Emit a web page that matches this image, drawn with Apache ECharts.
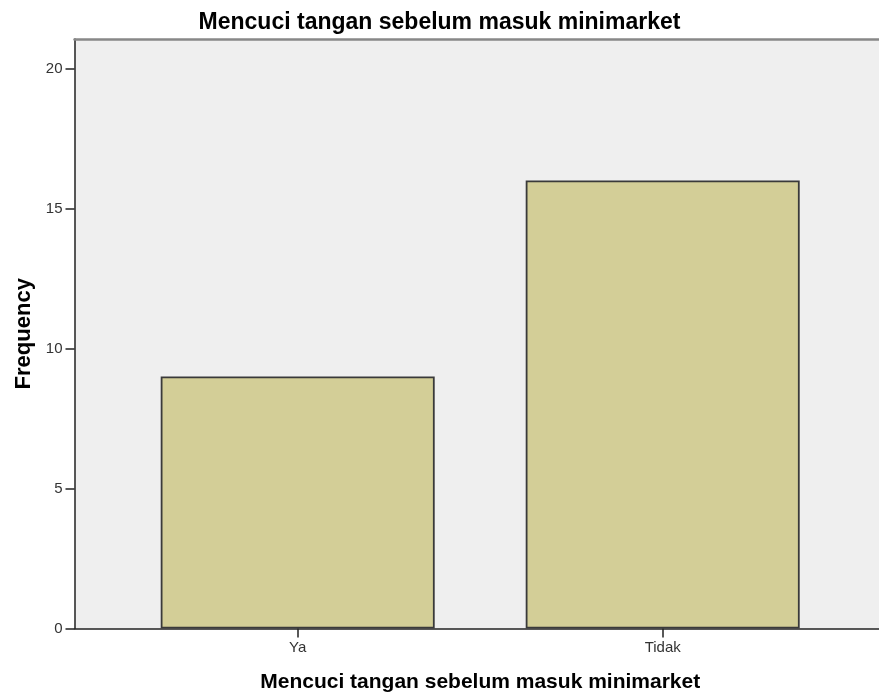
<!DOCTYPE html>
<html>
<head>
<meta charset="utf-8">
<script src="https://cdn.jsdelivr.net/npm/echarts@6/dist/echarts.min.js"></script>
<style>html,body{margin:0;padding:0;background:#fff;}#c{width:879px;height:698px;}</style>
</head>
<body>
<div id="c"></div>
<script>
const titleText = 'Mencuci tangan sebelum masuk minimarket';
const categories = ['Ya', 'Tidak'];
const frequencies = [9, 16];
const yTicks = [0, 5, 10, 15, 20];
const yMax = 21.05;

const chart = echarts.init(document.getElementById('c'));
const font = 'Liberation Sans, Arial, sans-serif';
chart.setOption({
  animation: false,
  backgroundColor: '#ffffff',
  title: {
    text: titleText, left: 'center', top: 6,
    textStyle: {fontFamily: font, fontSize: 23, fontWeight: 'bold', color: '#000'}
  },
  grid: [
    {left: 74.5, width: 812, top: 39, bottom: 69.5, show: true, backgroundColor: '#efefef', borderWidth: 0},
    {left: 115.2, width: 730, top: 39, bottom: 69.5}
  ],
  xAxis: [
    {gridIndex: 0, type: 'value', min: 0, max: 1, position: 'bottom',
     axisLine: {show: true, lineStyle: {color: '#222', width: 1.5}},
     axisTick: {show: false}, axisLabel: {show: false}, splitLine: {show: false}},
    {gridIndex: 0, type: 'value', min: 0, max: 1, position: 'top',
     axisLine: {show: true, lineStyle: {color: '#888', width: 2.5}},
     axisTick: {show: false}, axisLabel: {show: false}, splitLine: {show: false}},
    {gridIndex: 1, type: 'category', data: categories,
     name: titleText, nameLocation: 'middle', nameGap: 43,
     nameTextStyle: {fontFamily: font, fontSize: 21, fontWeight: 'bold', color: '#000'},
     axisLine: {show: false},
     axisTick: {show: true, alignWithLabel: true, length: 9, lineStyle: {color: '#222', width: 1.5}},
     axisLabel: {fontFamily: font, fontSize: 15, color: '#333', margin: 12},
     splitLine: {show: false}}
  ],
  yAxis: [
    {gridIndex: 0, type: 'value', min: 0, max: yMax,
     name: 'Frequency', nameLocation: 'middle', nameGap: 40, nameRotate: 90,
     nameTextStyle: {fontFamily: font, fontSize: 22, fontWeight: 'bold', color: '#000'},
     axisLine: {show: true, lineStyle: {color: '#222', width: 1.5}},
     axisTick: {show: true, length: 9, customValues: yTicks, lineStyle: {color: '#222', width: 1.5}},
     axisLabel: {fontFamily: font, fontSize: 15, color: '#333', margin: 12, customValues: yTicks},
     splitLine: {show: false}},
    {gridIndex: 1, type: 'value', min: 0, max: yMax, show: false, splitLine: {show: false}}
  ],
  series: [{
    type: 'bar', xAxisIndex: 2, yAxisIndex: 1, data: frequencies, barWidth: 274,
    itemStyle: {color: '#d3ce97', borderColor: '#3a3a3a', borderWidth: 1.8}
  }]
});
</script>
</body>
</html>
